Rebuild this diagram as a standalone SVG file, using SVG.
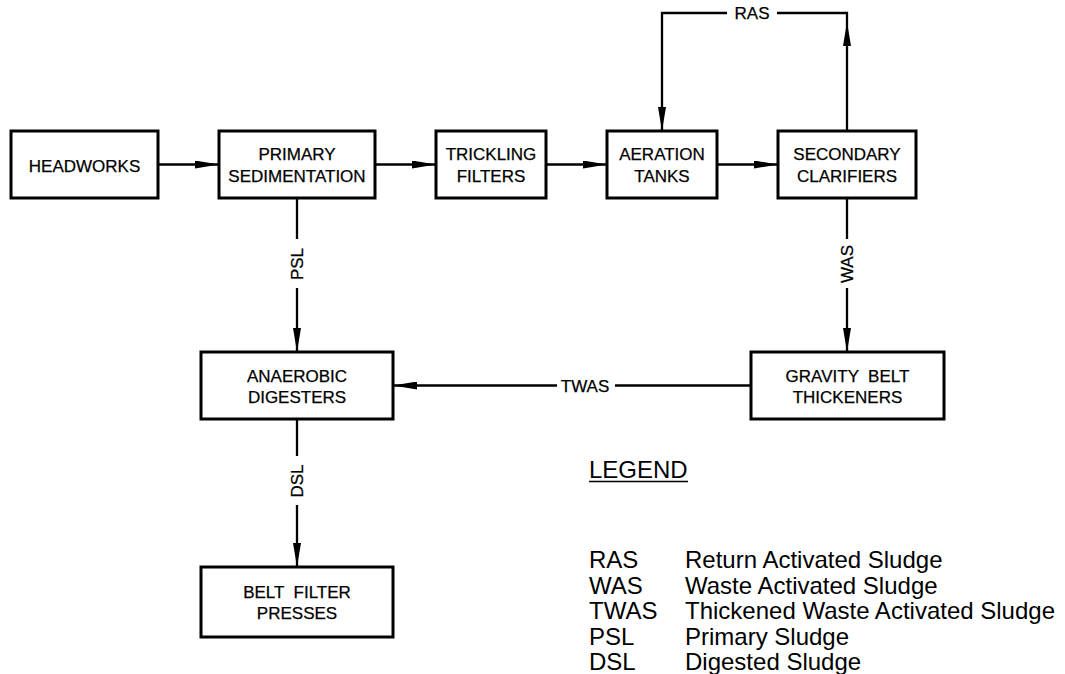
<svg xmlns="http://www.w3.org/2000/svg" width="1065" height="674" viewBox="0 0 1065 674">
<style>
.box{fill:#fff;stroke:#000;stroke-width:3}
.ln{fill:none;stroke:#000;stroke-width:2.3}
.t{font-family:"Liberation Sans",Arial,sans-serif;font-size:17px;fill:#000;stroke:#000;stroke-width:0.25;text-anchor:middle}
.lg{font-family:"Liberation Sans",Arial,sans-serif;font-size:24px;fill:#000}
</style>
<defs>
<marker id="ah" markerUnits="userSpaceOnUse" markerWidth="24" markerHeight="8" refX="24" refY="4" orient="auto">
<path d="M0,0 L24,4 L0,8 z" fill="#000"/>
</marker>
</defs>
<rect width="1065" height="674" fill="#fff"/>
<g id="connectors">
<line class="ln" x1="158" y1="164.5" x2="219" y2="164.5" marker-end="url(#ah)"/>
<line class="ln" x1="375" y1="164.5" x2="436" y2="164.5" marker-end="url(#ah)"/>
<line class="ln" x1="546" y1="164.5" x2="607" y2="164.5" marker-end="url(#ah)"/>
<line class="ln" x1="717" y1="164.5" x2="778" y2="164.5" marker-end="url(#ah)"/>
<line class="ln" x1="847" y1="131" x2="847" y2="22" marker-end="url(#ah)"/>
<polyline class="ln" points="847,22 847,13 777,13"/>
<polyline class="ln" points="727,13 662,13 662,131" marker-end="url(#ah)"/>
<text class="t" x="752" y="19">RAS</text>
<line class="ln" x1="847" y1="198" x2="847" y2="239"/>
<line class="ln" x1="847" y1="288" x2="847" y2="352" marker-end="url(#ah)"/>
<text class="t" transform="translate(853,264) rotate(-90)">WAS</text>
<line class="ln" x1="751" y1="385.5" x2="615" y2="385.5"/>
<line class="ln" x1="557" y1="385.5" x2="393" y2="385.5" marker-end="url(#ah)"/>
<text class="t" x="585" y="392">TWAS</text>
<line class="ln" x1="297" y1="198" x2="297" y2="239"/>
<line class="ln" x1="297" y1="288" x2="297" y2="352" marker-end="url(#ah)"/>
<text class="t" transform="translate(303,264) rotate(-90)">PSL</text>
<line class="ln" x1="297" y1="419" x2="297" y2="456"/>
<line class="ln" x1="297" y1="505" x2="297" y2="567" marker-end="url(#ah)"/>
<text class="t" transform="translate(303,481) rotate(-90)">DSL</text>
</g>
<g id="headworks">
<rect class="box" x="11" y="131" width="147" height="67"/>
<text class="t" x="84.5" y="172">HEADWORKS</text>
</g>
<g id="primary-sedimentation">
<rect class="box" x="219" y="131" width="156" height="67"/>
<text class="t" x="297" y="160">PRIMARY</text>
<text class="t" x="297" y="182">SEDIMENTATION</text>
</g>
<g id="trickling-filters">
<rect class="box" x="436" y="131" width="110" height="67"/>
<text class="t" x="491" y="160">TRICKLING</text>
<text class="t" x="491" y="182">FILTERS</text>
</g>
<g id="aeration-tanks">
<rect class="box" x="607" y="131" width="110" height="67"/>
<text class="t" x="662" y="160">AERATION</text>
<text class="t" x="662" y="182">TANKS</text>
</g>
<g id="secondary-clarifiers">
<rect class="box" x="778" y="131" width="138" height="67"/>
<text class="t" x="847" y="160">SECONDARY</text>
<text class="t" x="847" y="182">CLARIFIERS</text>
</g>
<g id="anaerobic-digesters">
<rect class="box" x="201" y="352" width="192" height="67"/>
<text class="t" x="297" y="382">ANAEROBIC</text>
<text class="t" x="297" y="403">DIGESTERS</text>
</g>
<g id="gravity-belt-thickeners">
<rect class="box" x="751" y="352" width="193" height="67"/>
<text class="t" x="847.5" y="382" xml:space="preserve">GRAVITY  BELT</text>
<text class="t" x="847.5" y="403">THICKENERS</text>
</g>
<g id="belt-filter-presses">
<rect class="box" x="201" y="567" width="192" height="70"/>
<text class="t" x="297" y="598" xml:space="preserve">BELT  FILTER</text>
<text class="t" x="297" y="619">PRESSES</text>
</g>
<g id="legend">
<text class="lg" x="589" y="478">LEGEND</text>
<line x1="589" y1="481.5" x2="688" y2="481.5" stroke="#000" stroke-width="1.6"/>
<text class="lg" x="589" y="568">RAS</text>
<text class="lg" x="685" y="568">Return Activated Sludge</text>
<text class="lg" x="589" y="593.5">WAS</text>
<text class="lg" x="685" y="593.5">Waste Activated Sludge</text>
<text class="lg" x="589" y="619">TWAS</text>
<text class="lg" x="685" y="619">Thickened Waste Activated Sludge</text>
<text class="lg" x="589" y="644.5">PSL</text>
<text class="lg" x="685" y="644.5">Primary Sludge</text>
<text class="lg" x="589" y="670">DSL</text>
<text class="lg" x="685" y="670">Digested Sludge</text>
</g>
</svg>
